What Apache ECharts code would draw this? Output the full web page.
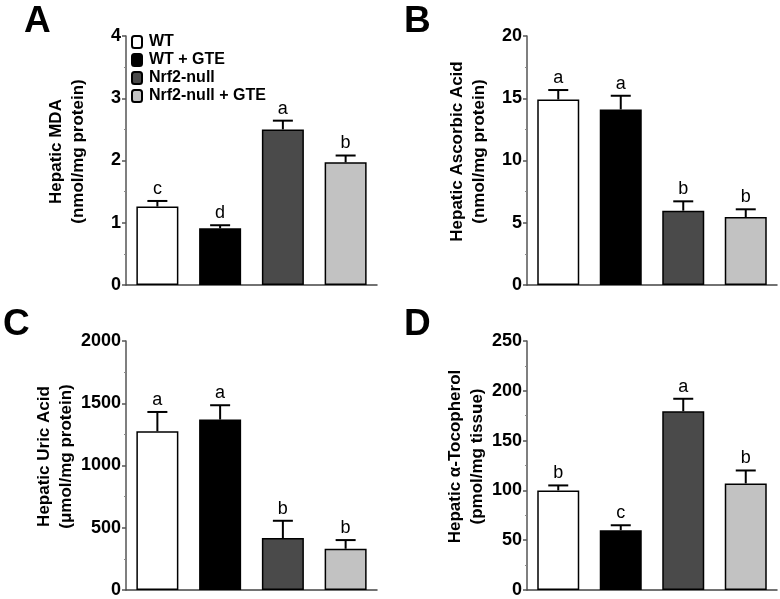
<!DOCTYPE html>
<html><head><meta charset="utf-8">
<script src="https://cdn.jsdelivr.net/npm/echarts@6/dist/echarts.min.js"></script>
<style>html,body{margin:0;padding:0;background:#fff}#c{width:780px;height:599px}</style>
</head><body><div id="c"></div>
<script>
var categories = ['WT', 'WT + GTE', 'Nrf2-null', 'Nrf2-null + GTE'];
var barColors = ['#ffffff', '#000000', '#4a4a4a', '#c2c2c2'];

var mdaMean = [1.26, 0.91, 2.50, 1.97];
var mdaErr = [0.09, 0.05, 0.14, 0.11];
var mdaLetters = ['c', 'd', 'a', 'b'];

var ascMean = [14.9, 14.1, 5.97, 5.46];
var ascErr = [0.76, 1.1, 0.75, 0.62];
var ascLetters = ['a', 'a', 'b', 'b'];

var uricMean = [1275, 1369, 417, 331];
var uricErr = [155, 115, 139, 70];
var uricLetters = ['a', 'a', 'b', 'b'];

var tocoMean = [100, 60, 179.5, 107];
var tocoErr = [5, 5, 12.5, 13];
var tocoLetters = ['b', 'c', 'a', 'b'];

var yMax = [4, 20, 2000, 250];
var yInterval = [1, 5, 500, 50];
var yNames = ['Hepatic MDA\n(nmol/mg protein)', 'Hepatic Ascorbic Acid\n(nmol/mg protein)',
  'Hepatic Uric Acid\n(\u03bcmol/mg protein)', 'Hepatic \u03b1-Tocopherol\n(pmol/mg tissue)'];
var panelLabels = ['A', 'B', 'C', 'D'];

var FONT = "'Liberation Sans', Arial, sans-serif";
var panels = [
  {mean: mdaMean, err: mdaErr, letters: mdaLetters},
  {mean: ascMean, err: ascErr, letters: ascLetters},
  {mean: uricMean, err: uricErr, letters: uricLetters},
  {mean: tocoMean, err: tocoErr, letters: tocoLetters}
];
var gridPos = [
  {left: 126, top: 36, width: 251, height: 249},
  {left: 527, top: 36, width: 250, height: 249},
  {left: 126, top: 341, width: 251, height: 249},
  {left: 527, top: 341, width: 250, height: 249}
];
var labelPos = [[24, 3], [404, 3], [3, 306], [404, 306]];

var grids = [], xAxes = [], yAxes = [], series = [], graphics = [];
panels.forEach(function (p, k) {
  grids.push(gridPos[k]);
  xAxes.push({
    type: 'category', gridIndex: k, data: categories,
    axisLine: {lineStyle: {color: '#444', width: 1.5}},
    axisTick: {show: false}, axisLabel: {show: false}, splitLine: {show: false}
  });
  yAxes.push({
    type: 'value', gridIndex: k, min: 0, max: yMax[k], interval: yInterval[k],
    name: yNames[k], nameLocation: 'middle', nameGap: 37,
    nameTextStyle: {fontFamily: FONT, fontWeight: 'bold', fontSize: 17, color: '#000', lineHeight: 22,
      padding: [0, 0, 0, 18]},
    axisLine: {show: true, lineStyle: {color: '#555', width: 1.5}},
    axisTick: {show: true, length: 4, lineStyle: {color: '#555', width: 1.5}},
    minorTick: {show: true, splitNumber: 2, length: 2, lineStyle: {color: '#888', width: 1}},
    axisLabel: {fontFamily: FONT, fontWeight: 'bold', fontSize: 18, color: '#000', margin: 5,
      formatter: function (v) { return String(v); }},
    splitLine: {show: false}
  });
  categories.forEach(function (c, i) {
    var d = categories.map(function (_, j) { return j === i ? p.mean[j] : '-'; });
    series.push({
      type: 'bar', name: c, xAxisIndex: k, yAxisIndex: k, data: d,
      barWidth: 42, barGap: '-100%',
      itemStyle: {color: barColors[i], borderColor: '#000', borderWidth: 1.5},
      emphasis: {disabled: true}, silent: true, animation: false
    });
  });
  var letters = p.letters;
  series.push({
    type: 'custom', xAxisIndex: k, yAxisIndex: k, silent: true, animation: false, z: 5,
    data: p.mean.map(function (m, i) { return [i, m, p.err[i]]; }),
    renderItem: function (params, api) {
      var x = api.value(0), m = api.value(1), e = api.value(2);
      var p0 = api.coord([x, m]), p1 = api.coord([x, m + e]);
      return {type: 'group', children: [
        {type: 'line', shape: {x1: p0[0], y1: p0[1], x2: p1[0], y2: p1[1]}, style: {stroke: '#000', lineWidth: 2}},
        {type: 'line', shape: {x1: p1[0] - 10, y1: p1[1], x2: p1[0] + 10, y2: p1[1]}, style: {stroke: '#000', lineWidth: 2}},
        {type: 'text', style: {text: letters[params.dataIndex], x: p1[0], y: p1[1] - 3,
          textAlign: 'center', textVerticalAlign: 'bottom', font: '18px ' + FONT, fill: '#000'}}
      ]};
    }
  });
  graphics.push({type: 'text', left: labelPos[k][0], top: labelPos[k][1],
    style: {text: panelLabels[k], font: 'bold 37px ' + FONT, fill: '#000'}});
});

var chart = echarts.init(document.getElementById('c'), null, {renderer: 'canvas'});
chart.setOption({
  animation: false,
  backgroundColor: '#fff',
  grid: grids, xAxes: undefined, xAxis: xAxes, yAxis: yAxes, series: series, graphic: graphics,
  legend: {
    data: categories, orient: 'vertical', left: 131, top: 34, padding: 0,
    itemWidth: 10, itemHeight: 12, itemGap: 2, selectedMode: false,
    textStyle: {fontFamily: FONT, fontWeight: 'bold', fontSize: 16, color: '#000', lineHeight: 16,
      padding: [0, 0, 0, 2]}
  }
});
</script></body></html>
